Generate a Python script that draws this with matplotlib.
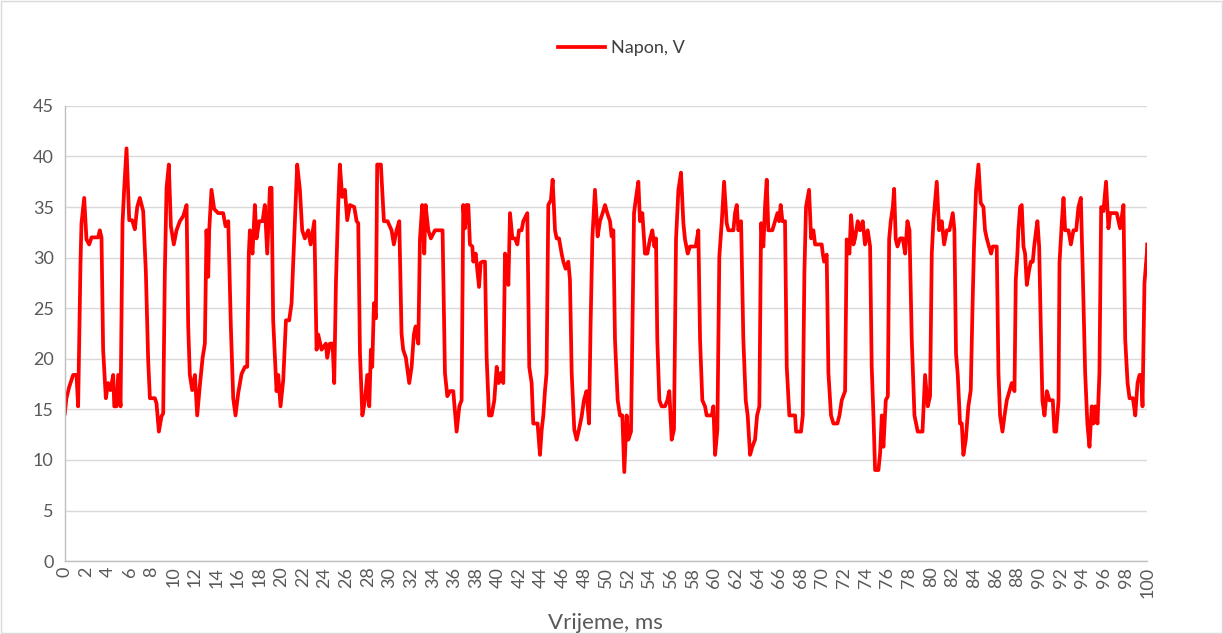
import matplotlib.pyplot as plt
from matplotlib.patches import Rectangle

plt.rcParams['font.family'] = ['Lato', 'DejaVu Sans']

# Measured voltage trace (time in ms, voltage in V)
time_ms = [
    0.0, 0.15, 0.4, 0.77, 1.08, 1.23, 1.45, 1.54, 1.79, 2.0, 2.25, 2.47, 3.08, 3.23, 3.39,
    3.54, 3.79, 4.0, 4.22, 4.47, 4.57, 4.77, 4.93, 5.15, 5.33, 5.48, 5.7, 5.95, 6.22, 6.47,
    6.69, 6.93, 7.24, 7.49, 7.7, 7.86, 8.32, 8.47, 8.69, 8.93, 9.09, 9.24, 9.4, 9.61, 9.8,
    10.07, 10.32, 10.63, 10.94, 11.25, 11.4, 11.55, 11.77, 12.02, 12.23, 12.48, 12.73, 12.94,
    13.09, 13.25, 13.34, 13.55, 13.8, 14.17, 14.63, 14.85, 15.1, 15.34, 15.56, 15.77, 16.02,
    16.33, 16.64, 16.85, 17.0, 17.1, 17.34, 17.56, 17.71, 17.96, 18.27, 18.48, 18.7, 18.95,
    19.1, 19.25, 19.41, 19.56, 19.72, 19.93, 20.18, 20.43, 20.73, 20.95, 21.16, 21.47, 21.72,
    21.93, 22.18, 22.49, 22.71, 23.05, 23.26, 23.41, 23.72, 24.12, 24.24, 24.49, 24.74, 24.89,
    25.05, 25.26, 25.41, 25.63, 25.88, 26.09, 26.34, 26.74, 26.96, 27.11, 27.27, 27.49, 27.73,
    27.94, 28.13, 28.28, 28.4, 28.56, 28.74, 28.86, 29.2, 29.48, 29.82, 30.19, 30.4, 30.65,
    30.9, 31.11, 31.26, 31.51, 31.82, 32.04, 32.25, 32.41, 32.66, 32.81, 33.02, 33.21, 33.33,
    33.58, 33.82, 34.2, 34.9, 35.12, 35.34, 35.58, 35.89, 36.2, 36.45, 36.66, 36.81, 36.97,
    37.12, 37.28, 37.43, 37.65, 37.74, 37.96, 38.11, 38.27, 38.42, 38.6, 38.82, 38.97, 39.19,
    39.43, 39.68, 39.9, 40.08, 40.3, 40.51, 40.67, 40.82, 40.98, 41.13, 41.35, 41.59, 41.81,
    41.96, 42.2, 42.36, 42.73, 42.91, 43.13, 43.28, 43.68, 43.9, 44.06, 44.21, 44.36, 44.51,
    44.67, 44.91, 45.07, 45.29, 45.44, 45.66, 45.9, 46.06, 46.27, 46.52, 46.67, 46.83, 47.07,
    47.29, 47.5, 47.75, 47.96, 48.2, 48.43, 48.58, 48.74, 48.98, 49.23, 49.44, 49.69, 49.91,
    50.12, 50.37, 50.52, 50.68, 50.83, 51.08, 51.29, 51.51, 51.69, 51.91, 52.06, 52.31, 52.59,
    52.77, 52.99, 53.14, 53.36, 53.6, 53.82, 54.06, 54.28, 54.47, 54.62, 54.74, 54.93, 55.14,
    55.45, 55.67, 55.85, 56.07, 56.28, 56.47, 56.69, 56.93, 57.15, 57.3, 57.55, 57.76, 58.29,
    58.53, 58.69, 58.9, 59.15, 59.3, 59.77, 59.92, 60.08, 60.29, 60.47, 60.69, 60.91, 61.15,
    61.31, 61.77, 61.92, 62.08, 62.23, 62.48, 62.69, 62.91, 63.09, 63.31, 63.52, 63.77, 63.96,
    64.17, 64.33, 64.54, 64.7, 64.85, 65.0, 65.37, 65.62, 65.84, 65.99, 66.14, 66.3, 66.54,
    66.7, 66.94, 67.47, 67.56, 68.02, 68.18, 68.33, 68.48, 68.76, 68.95, 69.16, 69.32, 69.93,
    70.03, 70.15, 70.39, 70.55, 70.79, 71.01, 71.38, 71.57, 71.78, 72.09, 72.24, 72.49, 72.64,
    72.86, 73.01, 73.26, 73.47, 73.72, 73.93, 74.18, 74.4, 74.55, 74.71, 74.86, 75.17, 75.33,
    75.48, 75.63, 75.85, 76.04, 76.16, 76.31, 76.5, 76.62, 76.77, 76.93, 77.17, 77.42, 77.64,
    77.85, 78.04, 78.25, 78.5, 78.8, 79.24, 79.48, 79.73, 79.94, 80.1, 80.25, 80.56, 80.78,
    81.02, 81.24, 81.48, 81.73, 82.04, 82.19, 82.34, 82.5, 82.71, 82.87, 83.02, 83.24, 83.48,
    83.7, 83.85, 84.0, 84.19, 84.41, 84.62, 84.87, 85.02, 85.18, 85.33, 85.58, 85.73, 86.1,
    86.26, 86.41, 86.63, 86.81, 87.03, 87.27, 87.49, 87.74, 87.86, 88.01, 88.1, 88.26, 88.41,
    88.57, 88.72, 88.88, 89.1, 89.25, 89.43, 89.56, 89.74, 89.86, 90.02, 90.17, 90.32, 90.51,
    90.73, 90.97, 91.28, 91.43, 91.59, 91.81, 91.9, 92.12, 92.27, 92.42, 92.73, 92.95, 93.19,
    93.44, 93.65, 93.87, 94.05, 94.27, 94.48, 94.67, 94.88, 95.04, 95.19, 95.41, 95.59, 95.75,
    95.96, 96.2, 96.42, 96.58, 97.19, 97.5, 97.81, 97.97, 98.19, 98.37, 98.68, 98.9, 99.11,
    99.29, 99.45, 99.57, 99.75, 99.97, 100.0,
]
napon_v = [
    14.6, 16.1, 17.2, 18.4, 18.4, 15.3, 29.5, 33.4, 35.9, 31.8, 31.3, 32.0, 32.0, 32.7, 32.0,
    20.9, 16.1, 17.6, 16.9, 18.4, 15.3, 15.3, 18.4, 15.3, 33.4, 36.7, 40.8, 33.7, 33.7, 32.8,
    35.0, 35.9, 34.6, 28.5, 19.9, 16.1, 16.1, 15.6, 12.8, 14.3, 14.6, 28.5, 36.9, 39.2, 33.1,
    31.3, 32.7, 33.6, 34.1, 35.2, 23.2, 18.4, 16.9, 18.4, 14.4, 17.4, 20.1, 21.5,
    32.7, 28.1, 32.7, 36.7, 34.8, 34.4, 34.4, 33.1, 33.6, 23.2, 16.1, 14.4, 16.6,
    18.5, 19.2, 19.2, 30.4, 32.7, 30.4, 35.2, 31.9, 33.6, 33.6, 35.2, 30.4, 36.9,
    36.9, 23.8, 20.1, 16.8, 18.4, 15.3, 17.9, 23.8, 23.8, 25.5, 31.1, 39.2, 36.7,
    32.7, 31.9, 32.7, 31.3, 33.6, 20.9, 22.4, 20.9, 21.5, 20.1, 21.5, 21.5, 17.6,
    27.5, 35.2, 39.2, 36.0, 36.7, 33.7, 35.2, 35.0, 33.6, 33.4, 20.5, 14.4, 15.9,
    18.4, 15.3, 20.9, 19.2, 25.5, 24.0, 39.2, 39.2, 33.6, 33.6, 32.7, 31.3, 32.7,
    33.6, 22.5, 20.9, 20.1, 17.6, 19.2, 22.4, 23.2, 21.5, 31.8, 35.2, 30.4, 35.2,
    32.7, 31.9, 32.7, 32.7, 18.6, 16.3, 16.8, 16.8, 12.8, 15.3, 15.9, 35.2, 32.9,
    35.2, 35.2, 31.3, 31.1, 29.6, 30.4, 28.8, 27.1, 29.5, 29.6, 29.6, 20.2, 14.4,
    14.4, 15.9, 19.2, 17.6, 18.6, 17.6, 30.4, 29.5, 27.3, 34.4, 31.9, 31.9, 31.3,
    32.7, 32.7, 33.6, 34.4, 19.2, 17.6, 13.6, 13.6, 10.5, 13.0, 14.4, 16.8, 18.6,
    35.2, 35.7, 37.7, 32.7, 31.9, 31.9, 30.4, 29.6, 28.9, 29.6, 27.8, 18.6, 13.0,
    12.0, 13.0, 14.3, 15.9, 16.8, 13.6, 23.5, 31.9, 36.7, 32.1, 33.6, 34.4, 35.2,
    34.4, 33.6, 32.1, 32.7, 21.9, 15.9, 14.4, 14.4, 8.8, 14.4, 12.0, 12.8, 34.4,
    35.9, 37.5, 33.6, 34.4, 30.4, 30.4, 31.8, 32.7, 31.1, 31.9, 21.9, 15.9, 15.3,
    15.3, 15.9, 16.8, 12.0, 13.0, 31.8, 36.7, 38.4, 33.4, 31.8, 30.4, 31.1, 31.1,
    32.7, 21.9, 15.9, 15.3, 14.4, 14.4, 15.3, 10.5, 13.0, 30.1, 33.4, 37.5, 33.4,
    32.7, 32.7, 34.4, 35.2, 32.7, 33.6, 21.9, 15.9, 14.4, 10.5, 11.3, 12.0, 14.4,
    15.3, 33.4, 31.1, 35.2, 37.7, 32.7, 32.7, 33.6, 34.4, 33.6, 35.2, 33.6, 33.6,
    19.2, 14.4, 14.4, 12.8, 12.8, 14.4, 28.5, 35.0, 36.7, 31.9, 32.7, 31.3, 31.3,
    30.4, 29.6, 30.3, 18.6, 14.4, 13.6, 13.6, 14.4, 15.9, 16.8, 31.8, 30.4, 34.2,
    31.3, 31.9, 33.6, 32.7, 33.6, 31.3, 32.7, 31.1, 19.2, 14.4, 9.0, 9.0, 10.7,
    14.4, 11.3, 15.9, 16.3, 31.8, 33.6, 35.0, 36.8, 31.8, 31.1, 31.9, 31.9, 30.4,
    33.6, 32.7, 21.9, 14.4, 12.8, 12.8, 18.4, 15.3, 16.3, 30.4, 33.6, 37.5, 32.7,
    33.6, 31.3, 32.7, 32.7, 34.4, 32.7, 20.5, 18.4, 13.6, 13.6, 10.5, 12.0, 15.3,
    16.9, 24.5, 31.1, 36.7, 39.2, 35.4, 35.0, 32.7, 31.9, 31.3, 30.4, 31.1, 31.1,
    18.6, 14.4, 12.8, 14.3, 15.9, 16.8, 17.6, 16.8, 27.8, 30.4, 32.7, 35.0, 35.2,
    31.1, 30.4, 27.3, 28.8, 29.6, 29.6, 31.1, 32.7, 33.6, 31.1, 23.2, 15.9, 14.4,
    16.8, 15.9, 15.9, 12.8, 12.8, 15.9, 29.5, 33.6, 35.9, 32.7, 32.7, 31.3, 32.7,
    32.7, 35.0, 35.9, 28.5, 18.6, 13.5, 11.3, 15.3, 13.6, 15.3, 13.6, 18.6, 35.0,
    34.6, 37.5, 32.9, 34.4, 34.4, 32.9, 35.2, 21.9, 17.6, 16.1, 16.1, 14.4, 17.6,
    18.4, 18.4, 15.3, 27.5, 30.4, 31.3,
]

x_ticks = list(range(0, 101, 2))
y_ticks = list(range(0, 46, 5))

fig = plt.figure(figsize=(12.23, 6.34), dpi=100)
ax = fig.add_axes([0.053, 0.115, 0.885, 0.718])

line, = ax.plot(time_ms, napon_v, color='#FF0000', linewidth=2.7,
                solid_joinstyle='round', label='Napon, V')

ax.set_xlim(0, 100)
ax.set_ylim(0, 45)
ax.set_xticks(x_ticks)
ax.set_xticklabels([str(t) for t in x_ticks], rotation=90)
ax.set_yticks(y_ticks)
ax.tick_params(axis='both', length=0, labelsize=13, colors='#595959')
ax.tick_params(axis='x', pad=4)
ax.tick_params(axis='y', pad=8)

# Excel-style light gridlines and axes
ax.yaxis.grid(True, color='#D9D9D9', linewidth=1.0)
ax.set_axisbelow(True)
for side in ['top', 'right']:
    ax.spines[side].set_visible(False)
for side in ['left', 'bottom']:
    ax.spines[side].set_color('#BFBFBF')
    ax.spines[side].set_linewidth(1.0)

fig.text(0.495, 0.018, 'Vrijeme, ms', ha='center', va='center',
         fontsize=16, color='#595959')

fig.legend(handles=[line], loc='center', bbox_to_anchor=(0.508, 0.924),
           frameon=False, fontsize=13, handlelength=2.6, handletextpad=0.3,
           labelcolor='#404040')

# Chart area border
fig.patches.append(Rectangle((0.001, 0.001), 0.998, 0.998, transform=fig.transFigure,
                             fill=False, edgecolor='#D9D9D9', linewidth=1.0))

fig.savefig('out.png', dpi=100)
plt.close(fig)
